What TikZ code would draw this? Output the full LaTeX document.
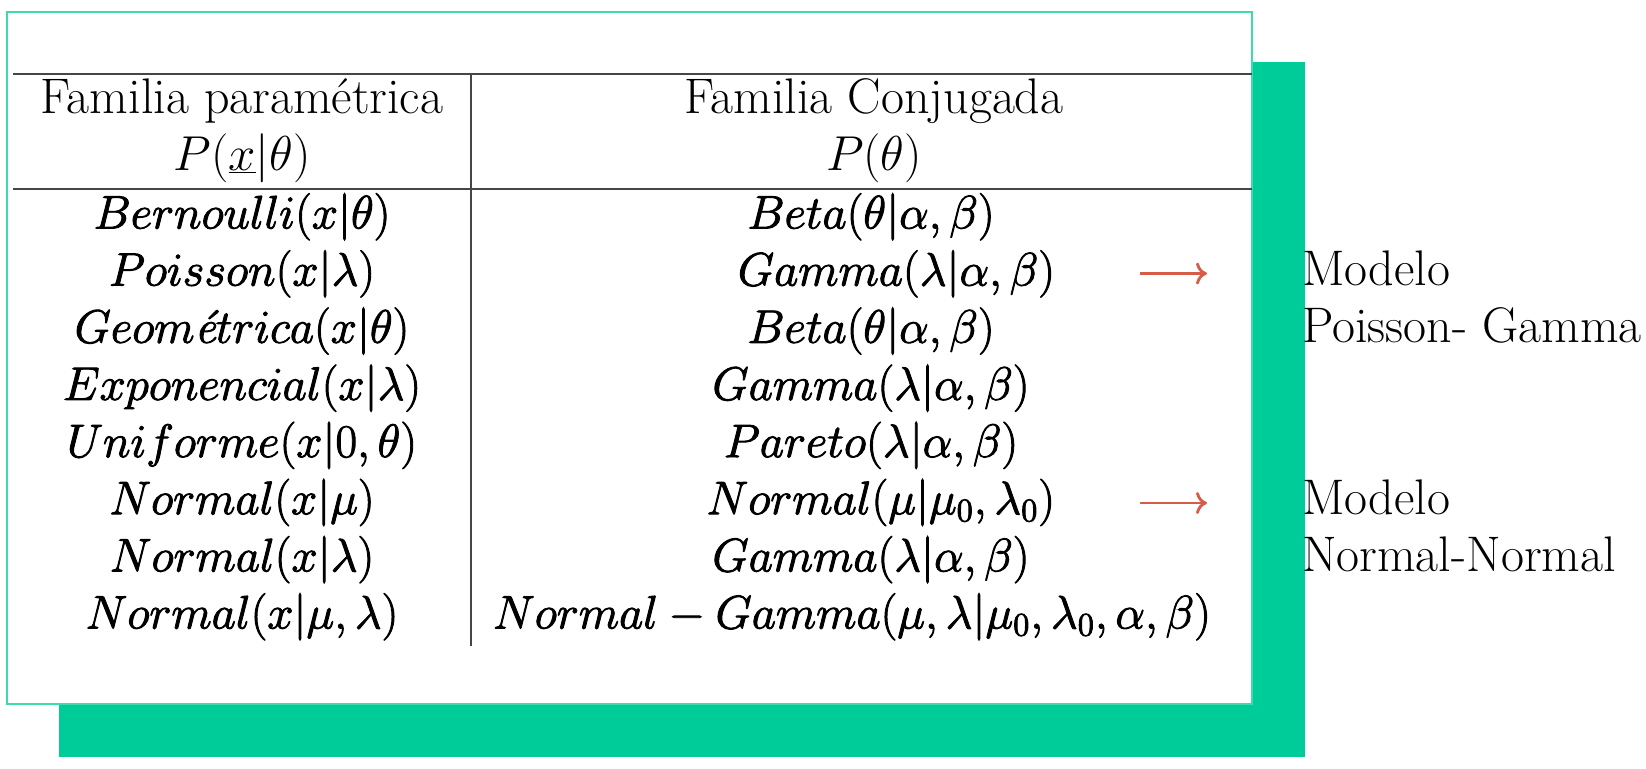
\RequirePackage{fix-cm}
\documentclass[tikz,border=0pt]{standalone}
\usetikzlibrary{arrows.meta}
\definecolor{grn}{RGB}{0,204,153}
\definecolor{grnl}{RGB}{60,220,170}
\definecolor{rul}{RGB}{70,70,70}
\definecolor{arrc}{RGB}{214,92,72}
\newcommand{\heavy}[1]{\special{pdf:literal direct 2 Tr 0.45 w}$#1$\special{pdf:literal direct 0 Tr}}
\begin{document}
\begin{tikzpicture}[x=0.5pt,y=-0.5pt,
  every node/.style={inner sep=0pt,outer sep=0pt,font=\fontsize{25}{30}\selectfont},
  hdm/.style={anchor=base,font=\fontsize{24.5}{29}\selectfont},
  cell/.style={anchor=base,font=\fontsize{23.5}{28}\selectfont},
  cellr/.style={anchor=base east,font=\fontsize{23.5}{28}\selectfont},
  hdr/.style={anchor=base},
  side/.style={anchor=base west},
  rulel/.style={draw=rul,line width=1pt},
  arrowline/.style={draw=arrc,line width=1.4pt,-{To[length=5.5pt,width=11pt]}}]
\useasboundingbox (0,0) rectangle (1646,768);
% shadow and card
\fill[grn] (59,62) rectangle (1305,757);
\draw[fill=white,draw=grnl,line width=0.75pt] (7,12) rectangle (1252,704);
% rules
\coordinate (r1a) at (13,74);  \coordinate (r1b) at (1252,74);
\coordinate (r2a) at (13,189); \coordinate (r2b) at (1252,189);
\coordinate (va) at (471,74);  \coordinate (vb) at (471,646);
\draw[rulel] (r1a) -- (r1b);
\draw[rulel] (r2a) -- (r2b);
\draw[rulel] (va) -- (vb);
% header
\node[hdr] (h1) at (242,113) {Familia paramétrica};
\node[hdm] (h2) at (242,170) {$P(\underline{x}|\theta)$};
\node[hdr] (h3) at (874,113) {Familia Conjugada};
\node[hdm] (h4) at (874,170) {$P(\theta)$};
% column 1
\node[cell] (a1) at (242,228.5) {\heavy{Bernoulli(x|\theta)}};
\node[cell] (a2) at (242,285.6) {\heavy{Poisson(x|\lambda)}};
\node[cell] (a3) at (242,342.8) {\heavy{Geom\textit{é}trica(x|\theta)}};
\node[cell] (a4) at (242,399.9) {\heavy{Exponencial(x|\lambda)}};
\node[cell] (a5) at (242,457.1) {\heavy{Uniforme(x|0,\theta)}};
\node[cell] (a6) at (242,514.2) {\heavy{Normal(x|\mu)}};
\node[cell] (a7) at (242,571.4) {\heavy{Normal(x|\lambda)}};
\node[cell] (a8) at (242,628.5) {\heavy{Normal(x|\mu,\lambda)}};
% column 2
\node[cell]  (b1) at (871,228.5) {\heavy{Beta(\theta|\alpha,\beta)}};
\node[cellr] (b2) at (1055,285.6) {\heavy{Gamma(\lambda|\alpha,\beta)}};
\node[cell]  (b3) at (871,342.8) {\heavy{Beta(\theta|\alpha,\beta)}};
\node[cell]  (b4) at (871,399.9) {\heavy{Gamma(\lambda|\alpha,\beta)}};
\node[cell]  (b5) at (871,457.1) {\heavy{Pareto(\lambda|\alpha,\beta)}};
\node[cellr] (b6) at (1055,514.2) {\heavy{Normal(\mu|\mu_0,\lambda_0)}};
\node[cell]  (b7) at (871,571.4) {\heavy{Gamma(\lambda|\alpha,\beta)}};
\node[cell]  (b8) at (852,628.5) {\heavy{Normal-Gamma(\mu,\lambda|\mu_0,\lambda_0,\alpha,\beta)}};
% arrows
\coordinate (p1s) at (1140,273.5); \coordinate (p1e) at (1207,273.5);
\coordinate (p2s) at (1140,503);   \coordinate (p2e) at (1207,503);
\draw[arrowline] (p1s) -- (p1e);
\draw[arrowline] (p2s) -- (p2e);
% side labels
\node[side] (m1) at (1302,285.6) {Modelo};
\node[side] (m2) at (1302,342.8) {Poisson- Gamma};
\node[side] (m3) at (1302,514.2) {Modelo};
\node[side] (m4) at (1302,571.4) {Normal-Normal};
\end{tikzpicture}
\end{document}
